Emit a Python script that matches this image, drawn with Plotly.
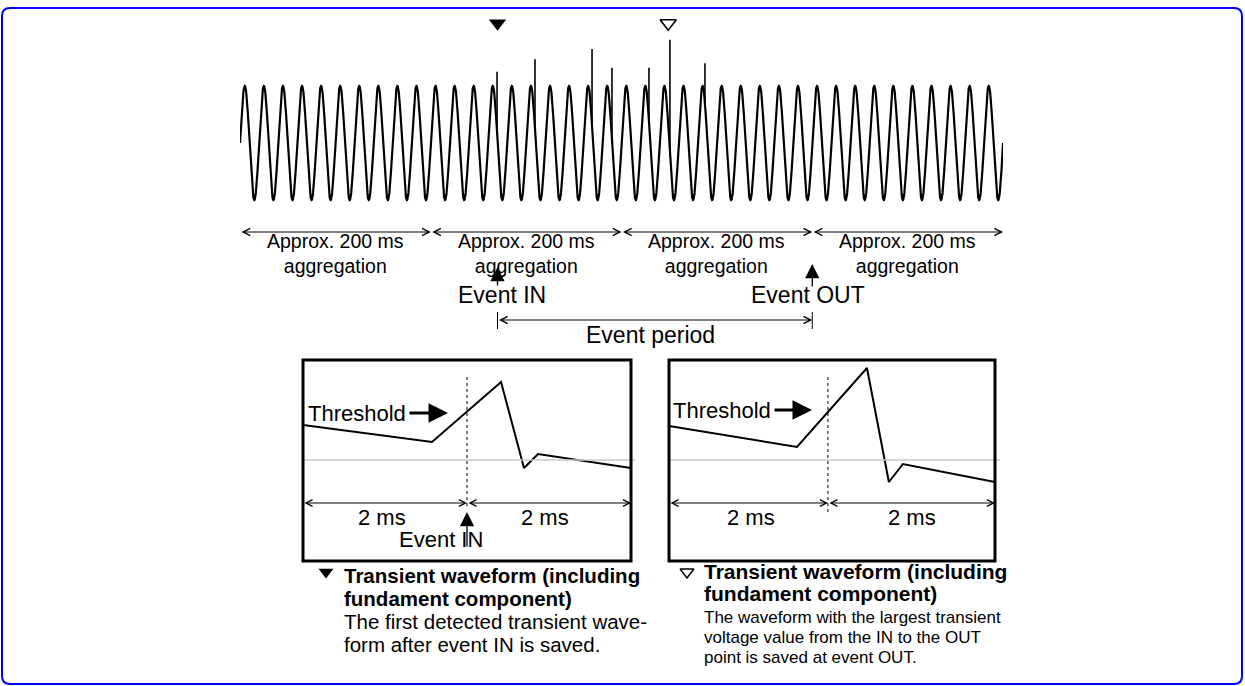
import numpy as np
import plotly.graph_objects as go

W, H = 1245, 686
FONT = "Liberation Sans, Arial, sans-serif"

# top waveform: 50 Hz fundamental, four ~200 ms aggregation windows
cycles = 40
window_ms = [0, 200, 400, 600, 800]
spike_ms = [269.5, 309.3, 369.1, 390.0, 428.8, 450.8, 487.5]
spike_peak = [1.25, 1.47, 1.65, 1.32, 1.32, 1.81, 1.40]
event_in_ms = 270
event_out_ms = 600
max_spike_ms = 449

# zoomed transient windows (ms around the trigger point, amplitude / threshold)
left_t = [-2, -0.427, 0.415, 0.695, 0.866, 2]
left_v = [0.745, 0.383, 1.66, -0.17, 0.128, -0.17]
right_t = [-1.95, -0.38, 0.479, 0.748, 0.92, 2.05]
right_v = [0.723, 0.277, 1.957, -0.468, -0.085, -0.468]

left_notes = ["The first detected transient wave-", "form after event IN is saved."]
right_notes = ["The waveform with the largest transient",
               "voltage value from the IN to the OUT",
               "point is saved at event OUT."]
bold_title = ["Transient waveform (including", "fundament component)"]

#--------------------------------------------------------------

def xdom(l, r):
    return [l / W, r / W]

def ydom(t, b):
    return [1 - b / H, 1 - t / H]

def amp(px):
    return (143 - px) / 57

def wave(t):
    return np.sin(2 * np.pi * cycles * np.asarray(t) / 800.0)

def arrow(x0, y0, x1, y1, head=2, width=1.5, size=1.0, both=False, xref="x", yref="y"):
    return dict(x=x1, y=y1, ax=x0, ay=y0, xref=xref, yref=yref, axref=xref, ayref=yref,
                text="", showarrow=True, arrowhead=head, startarrowhead=head,
                arrowside="end+start" if both else "end", arrowwidth=width,
                arrowsize=size, startarrowsize=size, arrowcolor="black",
                standoff=0, startstandoff=0)

def label(x, y, text, size, xref="x", yref="y", xanchor="center"):
    return dict(x=x, y=y, xref=xref, yref=yref, text=text, showarrow=False,
                xanchor=xanchor, yanchor="middle",
                font=dict(family=FONT, size=size, color="black"))

#--------------------------------------------------------------

fig = go.Figure()

t = np.linspace(0, 800, 4001)
fig.add_trace(go.Scatter(x=t, y=wave(t), xaxis="x2", yaxis="y2", mode="lines",
                         line=dict(color="black", width=2.2)))

sx, sy = [], []
for ts, pk in zip(spike_ms, spike_peak):
    sx += [ts, ts, None]
    sy += [float(wave(ts)), pk, None]
fig.add_trace(go.Scatter(x=sx, y=sy, xaxis="x2", yaxis="y2", mode="lines",
                         line=dict(color="black", width=1.6)))

fig.add_trace(go.Scatter(x=[event_in_ms], y=[2.1], xaxis="x2", yaxis="y2", mode="markers",
                         marker=dict(symbol="triangle-down", size=15, color="black")))
fig.add_trace(go.Scatter(x=[max_spike_ms], y=[2.1], xaxis="x2", yaxis="y2", mode="markers",
                         marker=dict(symbol="triangle-down-open", size=14, color="black",
                                     line=dict(width=1.6))))

# zoom boxes
fig.add_trace(go.Scatter(x=left_t, y=left_v, xaxis="x3", yaxis="y3", mode="lines",
                         line=dict(color="black", width=2)))
fig.add_trace(go.Scatter(x=right_t, y=right_v, xaxis="x4", yaxis="y4", mode="lines",
                         line=dict(color="black", width=2)))

# legend triangles under the boxes
fig.add_trace(go.Scatter(x=[326], y=[572], mode="markers",
                         marker=dict(symbol="triangle-down", size=13, color="black")))
fig.add_trace(go.Scatter(x=[687], y=[572], mode="markers",
                         marker=dict(symbol="triangle-down-open", size=12, color="black",
                                     line=dict(width=1.4))))

shapes = [
    dict(type="path", xref="x", yref="y",
         path="M 10,8 L 1234,8 Q 1242,8 1242,16 L 1242,676 Q 1242,684 1234,684 "
              "L 10,684 Q 2,684 2,676 L 2,16 Q 2,8 10,8 Z",
         line=dict(color="#0000ff", width=2)),
    # event period end ticks
    dict(type="line", xref="x2", yref="y", x0=event_in_ms, x1=event_in_ms, y0=312, y1=329,
         line=dict(color="black", width=1)),
    dict(type="line", xref="x2", yref="y", x0=event_out_ms, x1=event_out_ms, y0=312, y1=329,
         line=dict(color="black", width=1)),
    # baselines
    dict(type="line", xref="x", yref="y3", x0=303, x1=635, y0=0, y1=0,
         line=dict(color="#c8c8c8", width=1.5)),
    dict(type="line", xref="x", yref="y4", x0=669, x1=1000, y0=0, y1=0,
         line=dict(color="#c8c8c8", width=1.5)),
    # trigger lines
    dict(type="line", xref="x3", yref="y", x0=0, x1=0, y0=377, y1=508,
         line=dict(color="black", width=1, dash="dot")),
    dict(type="line", xref="x4", yref="y", x0=0, x1=0, y0=377, y1=513,
         line=dict(color="black", width=1, dash="dot")),
    # box frames
    dict(type="rect", xref="x", yref="y", x0=303, x1=631, y0=360, y1=561,
         line=dict(color="black", width=3)),
    dict(type="rect", xref="x", yref="y", x0=669, x1=995, y0=360, y1=561,
         line=dict(color="black", width=3)),
]

ann = []
# aggregation windows
for a, b in zip(window_ms[:-1], window_ms[1:]):
    ann.append(arrow(a, 232, b, 232, head=5, width=1, size=1.4, both=True, xref="x2"))
    ann.append(label((a + b) / 2, 253, "Approx. 200 ms<br>aggregation", 19.5, xref="x2"))

ann.append(arrow(event_in_ms, 287, event_in_ms, 267, head=2, width=1.3, size=2.2, xref="x2"))
ann.append(arrow(event_out_ms, 288, event_out_ms, 264, head=2, width=1.3, size=2.2, xref="x2"))
ann.append(label(502, 295, "Event IN", 23))
ann.append(label(808, 295, "Event OUT", 23))
ann.append(arrow(event_in_ms, 320, event_out_ms, 320, head=5, width=1, size=1.4, both=True, xref="x2"))
ann.append(label(650, 335, "Event period", 23))

# left box
ann.append(label(306, 413, "Threshold", 22, xanchor="left"))
ann.append(arrow(408, 413, 448, 413, head=2, width=3, size=1.3))
ann.append(arrow(-2, 503, 0, 503, head=5, width=1, size=1.3, both=True, xref="x3"))
ann.append(arrow(0, 503, 2, 503, head=5, width=1, size=1.3, both=True, xref="x3"))
ann.append(label(382, 517, "2 ms", 22))
ann.append(label(545, 517, "2 ms", 22))
ann.append(arrow(0, 548, 0, 512, head=2, width=1.3, size=2.2, xref="x3"))
ann.append(label(441, 539, "Event IN", 22))

# right box
ann.append(label(671, 410, "Threshold", 22, xanchor="left"))
ann.append(arrow(773, 410, 812, 410, head=2, width=3, size=1.3))
ann.append(arrow(-1.95, 503, 0, 503, head=5, width=1, size=1.3, both=True, xref="x4"))
ann.append(arrow(0, 503, 2.05, 503, head=5, width=1, size=1.3, both=True, xref="x4"))
ann.append(label(751, 517, "2 ms", 22))
ann.append(label(912, 517, "2 ms", 22))

# captions
for i, s in enumerate(bold_title):
    ann.append(label(342, 575 + 23 * i, "<b>" + s + "</b>", 20.5, xanchor="left"))
    ann.append(label(702, 571 + 22 * i, "<b>" + s + "</b>", 21, xanchor="left"))
for i, s in enumerate(left_notes):
    ann.append(label(342, 621 + 23 * i, s, 20.5, xanchor="left"))
for i, s in enumerate(right_notes):
    ann.append(label(702, 617 + 20 * i, s, 17, xanchor="left"))

hidden = dict(visible=False, fixedrange=True)
fig.update_layout(
    width=W, height=H,
    margin=dict(l=0, r=0, t=0, b=0),
    paper_bgcolor="white", plot_bgcolor="white",
    showlegend=False, hovermode=False,
    xaxis=dict(range=[0, W], domain=[0, 1], **hidden),
    yaxis=dict(range=[H, 0], domain=[0, 1], **hidden),
    xaxis2=dict(range=[0, 800], domain=xdom(240, 1003), anchor="y2", **hidden),
    yaxis2=dict(range=[amp(212), amp(10)], domain=ydom(10, 212), anchor="x2", **hidden),
    xaxis3=dict(range=[-2, 2], domain=xdom(303, 631), anchor="y3", **hidden),
    yaxis3=dict(range=[(460 - 561) / 47, (460 - 360) / 47], domain=ydom(360, 561), anchor="x3", **hidden),
    xaxis4=dict(range=[-1.95, 2.05], domain=xdom(669, 995), anchor="y4", **hidden),
    yaxis4=dict(range=[(460 - 561) / 47, (460 - 360) / 47], domain=ydom(360, 561), anchor="x4", **hidden),
    shapes=shapes,
    annotations=ann,
)

# page body has a default margin; drop it so the figure sits at the window corner
fig.write_html("out.html", config={"displayModeBar": False},
               post_script="document.body.style.margin='0';")
